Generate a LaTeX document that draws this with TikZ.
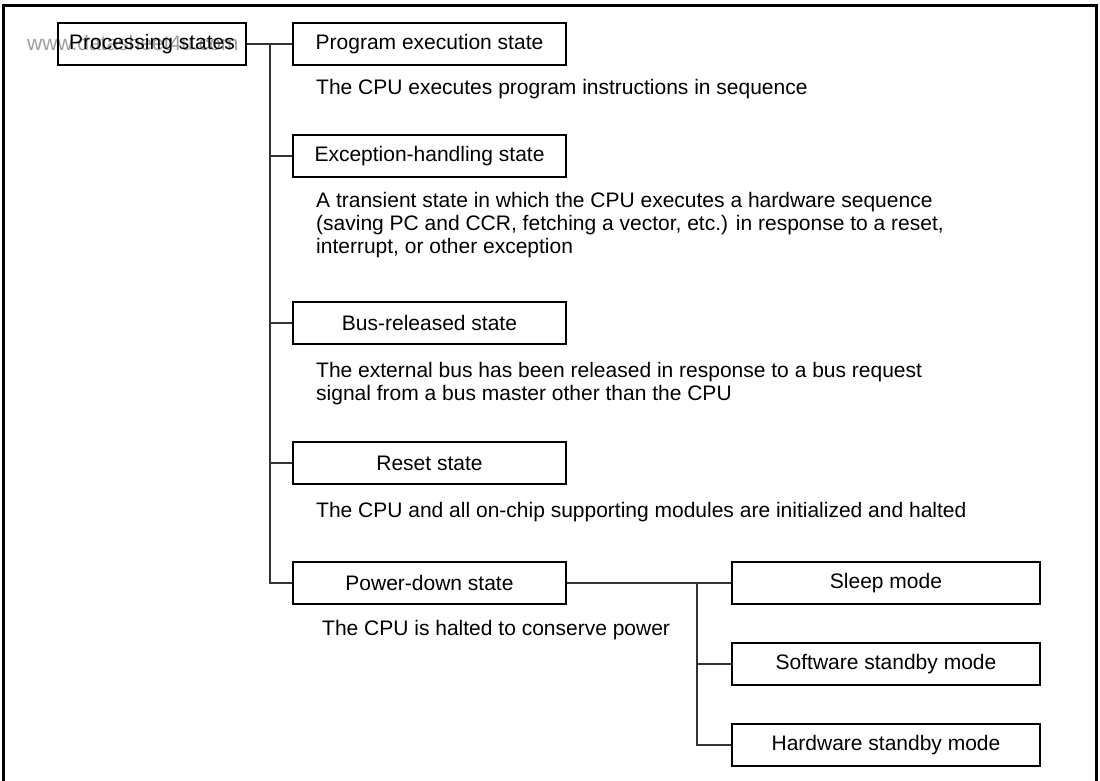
\documentclass[tikz,border=0pt]{standalone}
\usepackage{fontspec}
\setmainfont{Liberation Sans}
\begin{document}
\begin{tikzpicture}[x=1pt,y=-1pt,
  font=\fontsize{21}{23}\selectfont,
  statebox/.style={draw=black,line width=1.5pt,minimum height=42pt,inner sep=0pt,anchor=center},
  desc/.style={anchor=base west,inner sep=0pt},
  conn/.style={draw=black!80,line width=1.2pt},
  frame/.style={draw=black,line width=3pt}]
\useasboundingbox (0,0) rectangle (1100,780);
% outer frame (open at the bottom)
\draw[frame] (3.5,790) -- (3.5,5) -- (1096,5) -- (1096,790);
% watermark
\node[anchor=west,inner sep=0pt,text=black!38] (wm) at (27,43) {www.datasheet4u.com};
% boxes
\node[statebox,minimum width=188pt] (ps) at (152,44) {Processing states};
\node[statebox,minimum width=273pt] (pe) at (429.5,44) {Program execution state};
\node[statebox,minimum width=273pt] (eh) at (429.5,156) {Exception-handling state};
\node[statebox,minimum width=273pt] (br) at (429.5,323) {Bus-released state};
\node[statebox,minimum width=273pt] (rs) at (429.5,463) {Reset state};
\node[statebox,minimum width=273pt] (pd) at (429.5,583) {Power-down state};
\node[statebox,minimum width=308pt] (sl) at (886,583) {Sleep mode};
\node[statebox,minimum width=308pt] (ss) at (886,664) {Software standby mode};
\node[statebox,minimum width=308pt] (hs) at (886,745) {Hardware standby mode};
% descriptions
\node[desc] (d1) at (316,94.5) {The CPU executes program instructions in sequence};
\node[desc] (d2a) at (316,207) {A transient state in which the CPU executes a hardware sequence};
\node[desc] (d2b) at (316,230) {(saving PC and CCR, fetching a vector, etc.) in response to a reset,};
\node[desc] (d2c) at (316,253) {interrupt, or other exception};
\node[desc] (d3a) at (316,377) {The external bus has been released in response to a bus request};
\node[desc] (d3b) at (316,400) {signal from a bus master other than the CPU};
\node[desc] (d4) at (316,517) {The CPU and all on-chip supporting modules are initialized and halted};
\node[desc] (d5) at (322,635) {The CPU is halted to conserve power};
% connectors
\coordinate (t0) at (270,44);
\coordinate (u0) at (697,583);
\draw[conn] (ps.east) -- (pe.west);
\draw[conn] (t0) -- (t0 |- pd.west) -- (pd.west);
\draw[conn] (t0 |- eh.west) -- (eh.west);
\draw[conn] (t0 |- br.west) -- (br.west);
\draw[conn] (t0 |- rs.west) -- (rs.west);
\draw[conn] (pd.east) -- (sl.west);
\draw[conn] (u0) -- (u0 |- hs.west) -- (hs.west);
\draw[conn] (u0 |- ss.west) -- (ss.west);
\end{tikzpicture}
\end{document}
